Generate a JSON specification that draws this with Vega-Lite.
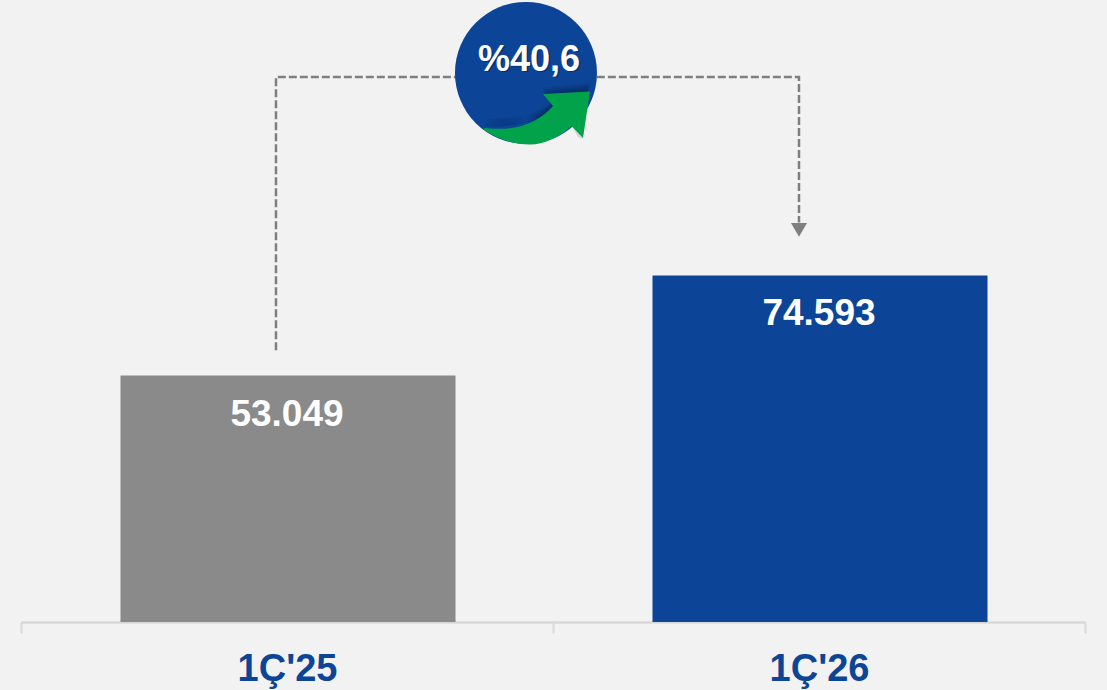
{
"$schema":"https://vega.github.io/schema/vega-lite/v6.json",
"width":1064,"height":622,"autosize":{"type":"none"},"padding":{"left":21,"top":0,"right":22,"bottom":68},
"background":"#f2f2f2","view":{"stroke":null},
"config":{"font":"Liberation Sans"},
"datasets":{
"bars":[{"period":"1Ç'25","value":53049,"label":"53.049"},{"period":"1Ç'26","value":74593,"label":"74.593"}],
"link":[{"pos":0.4793,"level":58500,"o":0},{"pos":0.4793,"level":117300,"o":1},{"pos":1.4624,"level":117300,"o":2},{"pos":1.4624,"level":86000,"o":3}],
"head":[{"pos":1.4624,"level":84400}],
"badge":[{"pos":0.9492,"level":118200,"label":"%40,6"}]
},
"layer":[
{"data":{"name":"link"},"mark":{"type":"line","color":"#7f7f7f","strokeWidth":2.5,"strokeDash":[8,3],"interpolate":"linear"},
 "encoding":{"x":{"field":"pos","type":"quantitative","scale":{"domain":[0,2],"nice":false,"zero":false},"axis":null},"y":{"field":"level","type":"quantitative","scale":{"domain":[0,133900],"nice":false},"axis":null},"order":{"field":"o"}}},
{"data":{"name":"head"},"mark":{"type":"point","shape":"triangle-down","filled":true,"color":"#7f7f7f","opacity":1,"size":256},
 "encoding":{"x":{"field":"pos","type":"quantitative","scale":{"domain":[0,2],"nice":false,"zero":false},"axis":null},"y":{"field":"level","type":"quantitative","axis":null}}},
{"data":{"name":"bars"},"mark":{"type":"bar","size":335,"xOffset":1},
 "encoding":{"x":{"field":"period","type":"nominal","sort":null,"scale":{"paddingInner":0,"paddingOuter":0},
   "axis":{"title":null,"labelAngle":0,"labelFont":"Liberation Sans","labelFontSize":38,"labelFontWeight":"bold","labelColor":"#0d4596","labelPadding":17,"domainColor":"#d9d9d9","domainWidth":2.5,"tickColor":"#d9d9d9","tickWidth":2,"tickSize":11,"tickBand":"extent","labelBaseline":"top"}},
  "y":{"field":"value","type":"quantitative","axis":null},
  "color":{"field":"period","type":"nominal","scale":{"range":["#8a8a8a","#0c4497"]},"legend":null}}},
{"data":{"name":"bars"},"mark":{"type":"text","font":"Liberation Sans","fontSize":37,"fontWeight":"bold","color":"#ffffff","baseline":"middle","dy":39},
 "encoding":{"x":{"field":"period","type":"nominal","sort":null,"axis":null},"y":{"field":"value","type":"quantitative","axis":null},"text":{"field":"label"}}},
{"data":{"name":"badge"},"mark":{"type":"point","shape":"circle","filled":true,"color":"#0c4497","opacity":1,"size":20164},
 "encoding":{"x":{"field":"pos","type":"quantitative","scale":{"domain":[0,2],"nice":false,"zero":false},"axis":null},"y":{"field":"level","type":"quantitative","axis":null}}},
{"data":{"name":"badge"},"mark":{"type":"point","filled":true,"color":"#06244f","opacity":0.14,"size":4,"shape":"M -41 56 C -10 59 12 50 27 35 L 17 24 L 64 19 L 55 35 L 20 50 Z","yOffset":-9},
 "encoding":{"x":{"field":"pos","type":"quantitative","scale":{"domain":[0,2],"nice":false,"zero":false},"axis":null},"y":{"field":"level","type":"quantitative","axis":null}}},
{"data":{"name":"badge"},"mark":{"type":"point","filled":true,"color":"#06244f","opacity":0.18,"size":4,"shape":"M -41 56 C -10 59 12 50 27 35 L 17 24 L 64 19 L 55 35 L 20 50 Z","yOffset":-7},
 "encoding":{"x":{"field":"pos","type":"quantitative","scale":{"domain":[0,2],"nice":false,"zero":false},"axis":null},"y":{"field":"level","type":"quantitative","axis":null}}},
{"data":{"name":"badge"},"mark":{"type":"point","filled":true,"color":"#06244f","opacity":0.25,"size":4,"shape":"M -41 56 C -10 59 12 50 27 35 L 17 24 L 64 19 L 55 35 L 20 50 Z","yOffset":-5},
 "encoding":{"x":{"field":"pos","type":"quantitative","scale":{"domain":[0,2],"nice":false,"zero":false},"axis":null},"y":{"field":"level","type":"quantitative","axis":null}}},
{"data":{"name":"badge"},"mark":{"type":"point","filled":true,"color":"#06244f","opacity":0.3,"size":4,"shape":"M -41 56 C -10 59 12 50 27 35 L 17 24 L 64 19 L 55 35 L 20 50 Z","yOffset":-3},
 "encoding":{"x":{"field":"pos","type":"quantitative","scale":{"domain":[0,2],"nice":false,"zero":false},"axis":null},"y":{"field":"level","type":"quantitative","axis":null}}},
{"data":{"name":"badge"},"mark":{"type":"point","filled":true,"color":"#d4d4d4","opacity":1,"size":4,"shape":"M 46 53 L 54 60 L 57 66 L 52 64 Z"},
 "encoding":{"x":{"field":"pos","type":"quantitative","scale":{"domain":[0,2],"nice":false,"zero":false},"axis":null},"y":{"field":"level","type":"quantitative","axis":null}}},
{"data":{"name":"badge"},"mark":{"type":"point","filled":true,"color":"#00a24a","opacity":1,"size":4,"shape":"M -41 55 C -10 59 12 50 27 33 L 17 21 L 64 18.5 L 57 65 L 45.5 53 C 32 65 18 71.5 4 71.5 C -15 71.5 -32 64 -43 56 Z"},
 "encoding":{"x":{"field":"pos","type":"quantitative","scale":{"domain":[0,2],"nice":false,"zero":false},"axis":null},"y":{"field":"level","type":"quantitative","axis":null}}},
{"data":{"name":"badge"},"mark":{"type":"text","font":"Liberation Sans","fontSize":36,"fontWeight":"bold","color":"#0a2a5c","opacity":0.7,"baseline":"middle","dx":4.5,"dy":-11.5},
 "encoding":{"x":{"field":"pos","type":"quantitative","scale":{"domain":[0,2],"nice":false,"zero":false},"axis":null},"y":{"field":"level","type":"quantitative","axis":null},"text":{"field":"label"}}},
{"data":{"name":"badge"},"mark":{"type":"text","font":"Liberation Sans","fontSize":36,"fontWeight":"bold","color":"#ffffff","baseline":"middle","dx":3,"dy":-13},
 "encoding":{"x":{"field":"pos","type":"quantitative","scale":{"domain":[0,2],"nice":false,"zero":false},"axis":null},"y":{"field":"level","type":"quantitative","axis":null},"text":{"field":"label"}}}
],
"resolve":{"scale":{"x":"independent","color":"independent"},"axis":{"x":"independent"}}
}
